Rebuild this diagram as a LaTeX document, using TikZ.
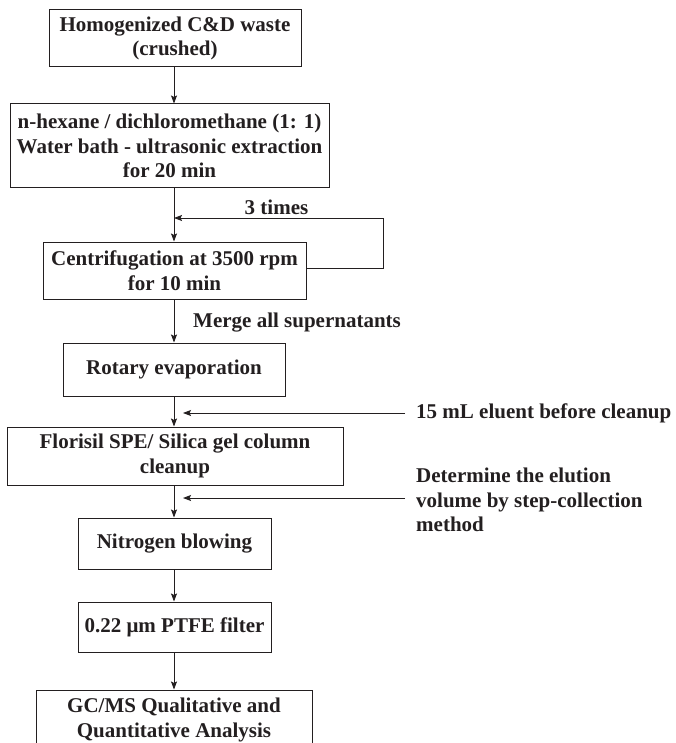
\documentclass[tikz,border=0pt]{standalone}
\usepackage{fontspec}
\setmainfont{Liberation Serif}
\usetikzlibrary{arrows.meta}
\definecolor{ink}{RGB}{35,31,32}
\begin{document}
\begin{tikzpicture}[x=1pt,y=-1pt,
  every node/.style={text=ink},
  txt/.style={font=\fontsize{21}{24.5}\selectfont\bfseries, inner sep=0pt},
  box/.style={txt, draw=ink, line width=1pt, align=center},
  lbl/.style={txt, align=left},
  arr/.style={draw=ink, line width=0.9pt, -{Stealth[length=8pt,width=6pt,inset=1.5pt]}},
  lin/.style={draw=ink, line width=0.9pt}]
\clip (0,0) rectangle (676,743);
\fill[white] (0,0) rectangle (676,743);
\coordinate (ax) at (174,0);
\node[box, minimum width=252pt, minimum height=57pt] (b1) at (175,38.5) {Homogenized C\&D waste\\(crushed)};
\node[box, minimum width=319pt, minimum height=84pt] (b2) at (169.5,146) {n-hexane / dichloromethane (1: 1)\\Water bath - ultrasonic extraction\\for 20 min};
\node[box, minimum width=263pt, minimum height=57pt] (b3) at (174.5,270.5) {Centrifugation at 3500 rpm\\for 10 min};
\node[box, minimum width=222pt, minimum height=53pt] (b4) at (174,369.5) {Rotary evaporation};
\node[box, minimum width=336pt, minimum height=58pt] (b5) at (175,456) {Florisil SPE/ Silica gel column\\cleanup};
\node[box, minimum width=193pt, minimum height=51pt] (b6) at (174.5,543.5) {Nitrogen blowing};
\node[box, minimum width=193pt, minimum height=50pt] (b7) at (174.5,627) {0.22 μm PTFE filter};
\node[box, minimum width=276pt, minimum height=60pt] (b8) at (174,720) {GC/MS Qualitative and\\Quantitative Analysis};
% main flow
\draw[arr] (b1.south -| ax) -- (b2.north -| ax);
\draw[arr] (b2.south -| ax) -- (b3.north -| ax);
\draw[arr] (b3.south -| ax) -- (b4.north -| ax);
\draw[arr] (b4.south -| ax) -- (b5.north -| ax);
\draw[arr] (b5.south -| ax) -- (b6.north -| ax);
\draw[arr] (b6.south -| ax) -- (b7.north -| ax);
\draw[arr] (b7.south -| ax) -- (b8.north -| ax);
% loop
\coordinate (loopR) at (383,268);
\coordinate (loopIn) at (174,218);
\draw[arr] (b3.east |- loopR) -- (loopR) -- (loopR |- loopIn) -- (loopIn);
\node[txt] (l1) at (276.5,207) {3 times};
\node[txt, anchor=west] (l2) at (193,323) {Merge all supernatants};
% side inputs
\coordinate (s1a) at (405,413);
\coordinate (s1b) at (183,413);
\draw[arr] (s1a) -- (s1b);
\node[txt, anchor=west] (l3) at (416,413) {15 mL eluent before cleanup};
\coordinate (s2a) at (405,498);
\coordinate (s2b) at (183,498);
\draw[arr] (s2a) -- (s2b);
\node[lbl, anchor=west] (l4) at (416,500) {Determine the elution\\volume by step-collection\\method};
\end{tikzpicture}
\end{document}
